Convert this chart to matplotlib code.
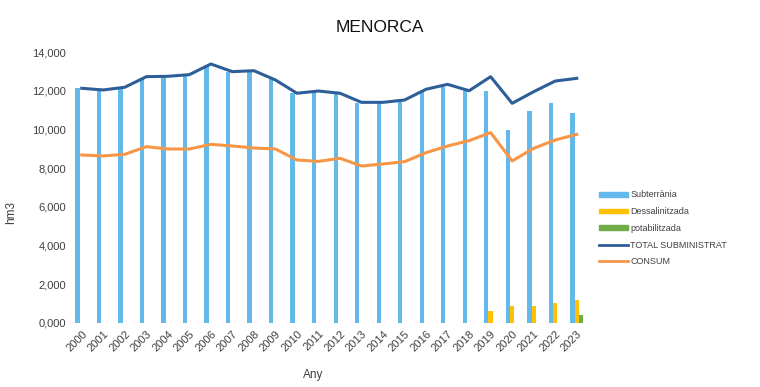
import numpy as np
import matplotlib; matplotlib.use("Agg")
import matplotlib.pyplot as plt
from matplotlib.ticker import FuncFormatter
from matplotlib.lines import Line2D
from matplotlib.patches import Patch

years = list(range(2000, 2024))
subterrania = [12125, 12040, 12125, 12640, 12690, 12760, 13280, 12980, 13035, 12590,
               11870, 11920, 11870, 11390, 11390, 11470, 12000, 12210, 12000, 12000,
               9970, 10950, 11350, 10870]
dessal = [0]*19 + [600, 890, 890, 1050, 1190]
potab = [0]*23 + [430]
total = [12125, 12040, 12180, 12725, 12745, 12830, 13380, 12985, 13035, 12555,
         11870, 11985, 11870, 11400, 11400, 11520, 12075, 12330, 12000, 12725,
         11350, 11950, 12500, 12640]
consum = [8680, 8630, 8715, 9110, 8990, 8990, 9230, 9145, 9040, 8990,
          8420, 8350, 8510, 8110, 8215, 8335, 8800, 9145, 9420, 9835,
          8370, 9025, 9455, 9745]

plt.rcParams["font.family"] = ["Liberation Sans", "DejaVu Sans"]
C_SUB, C_DES, C_POT = "#63B8EC", "#FFC000", "#70AD47"
C_TOT, C_CON = "#2E5E98", "#F79646"

fig = plt.figure(figsize=(7.6, 3.87), dpi=100, facecolor="white")
ax = fig.add_axes([0.0934, 0.1654, 0.6796, 0.7002])
x = np.arange(len(years)); w = 0.2
ax.bar(x - w, subterrania, w, color=C_SUB)
ax.bar(x, dessal, w, color=C_DES)
ax.bar(x + w, potab, w, color=C_POT)
ax.plot(x, total, color=C_TOT, lw=2.2)
ax.plot(x, consum, color=C_CON, lw=2.2)

ax.set_xlim(-0.5, len(years) - 0.5); ax.set_ylim(0, 14000)
ax.set_yticks(range(0, 14001, 2000))
ax.yaxis.set_major_formatter(FuncFormatter(lambda v, p: "0,000" if v == 0 else f"{int(v):,}"))
ax.set_xticks(x); ax.set_xticklabels(years, rotation=45, ha="right", rotation_mode="anchor")
ax.tick_params(axis="both", length=0, labelsize=8, colors="#404040")
ax.tick_params(axis="x", pad=4)
for s in ("top", "right", "left", "bottom"): ax.spines[s].set_visible(False)

fig.text(0.5, 0.928, "MENORCA", ha="center", va="center", fontsize=12.5, color="#111111")
fig.text(0.015, 0.45, "hm3", rotation=90, ha="center", va="center", fontsize=8.5, color="#404040")
fig.text(0.412, 0.03, "Any", ha="center", va="center", fontsize=8.5, color="#404040")

handles = [Patch(color=C_SUB), Patch(color=C_DES), Patch(color=C_POT),
           Line2D([], [], color=C_TOT, lw=2), Line2D([], [], color=C_CON, lw=2)]
labels = ["Subterrània", "Dessalinitzada", "potabilitzada", "TOTAL SUBMINISTRAT", "CONSUM"]
fig.legend(handles, labels, loc="center left", bbox_to_anchor=(0.777, 0.41), frameon=False,
           fontsize=6.5, handlelength=3.2, handleheight=0.45, labelspacing=0.85, handletextpad=0.3,
           labelcolor="#404040")

fig.savefig("out.png", dpi=100, facecolor="white")
